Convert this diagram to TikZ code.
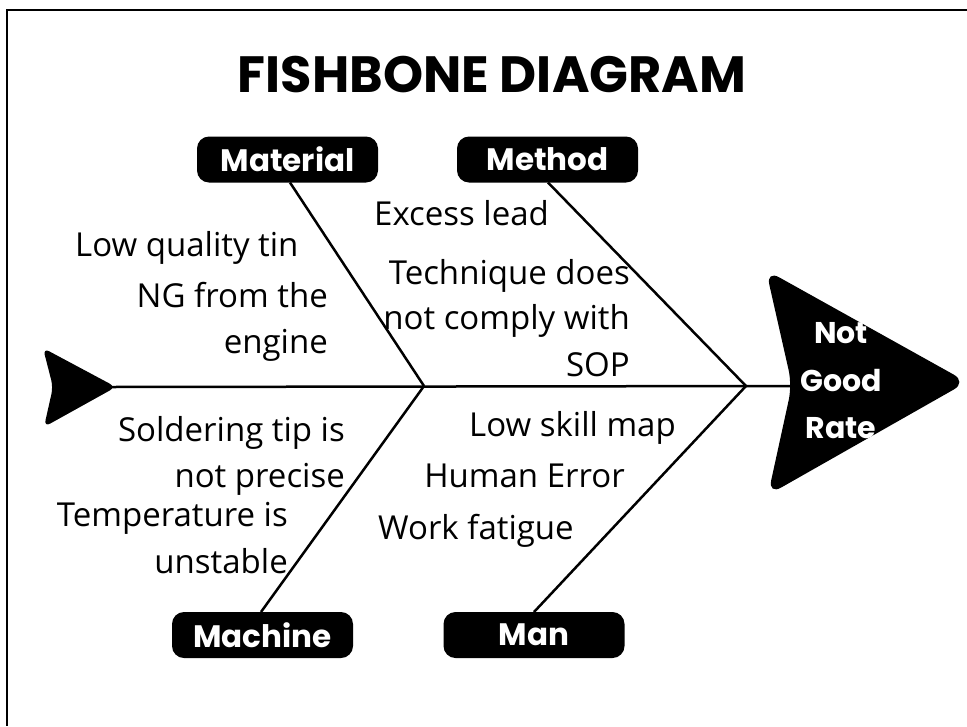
\documentclass[tikz,border=0pt]{standalone}
\usepackage{fontspec}
\setmainfont{Open Sans}
\newfontfamily\qfont{Poppins}
\begin{document}
\begin{tikzpicture}[x=1pt,y=-1pt,
  bone/.style={line width=2.5pt,black},
  catbox/.style={fill=black,rounded corners=12pt,minimum width=181pt,minimum height=46pt,inner sep=0pt,text=white,font=\qfont\bfseries\fontsize{31}{32}\selectfont},
  cause/.style={inner sep=0pt,font=\fontsize{33}{46}\selectfont},
  headtxt/.style={inner sep=0pt,text=white,font=\qfont\bfseries\fontsize{30}{32}\selectfont}
]
\useasboundingbox (0,0) rectangle (967,726);
\fill[white] (0,0) rectangle (967,726);
% frame (only top and left edges visible)
\draw[line width=2pt] (967,10) -- (7,10) -- (7,726);
% title
\node[inner sep=0pt,anchor=base,font=\qfont\bfseries\fontsize{51}{55}\selectfont] (title) at (492,92) {FISHBONE DIAGRAM};
% head
\fill[rounded corners=15pt] (766,270) -- (967,382) -- (768,495) -- (792,385) -- cycle;
\coordinate (head) at (792,386);
% tail
\fill[rounded corners=7pt] (43,348) -- (116,387) -- (44,427) -- (53,387) -- cycle;
\coordinate (tail) at (112,387);
% junctions
\coordinate (j1) at (424,386);
\coordinate (j2) at (746,386);
% category boxes
\node[catbox] (material) at (287.5,159.5) {Material};
\node[catbox] (method) at (547.5,159.5) {Method};
\node[catbox] (machine) at (262.5,635) {Machine};
\node[catbox] (man) at (534,635) {Man};
% bones
\draw[bone] (tail) -- (head);
\draw[bone] (290,182.5) coordinate (mat1) -- (j1);
\draw[bone] (548,182.5) coordinate (met1) -- (j2);
\draw[bone] (261,612) coordinate (mac1) -- (j1);
\draw[bone] (534,612) coordinate (man1) -- (j2);
% head text
\node[headtxt,anchor=base] (not) at (841,343) {Not};
\node[headtxt,anchor=base] (good) at (841,391) {Good};
\node[headtxt,anchor=base] (rate) at (841,438) {Rate};
% causes
\node[cause,anchor=base west] (c1) at (75,256) {Low quality tin};
\node[cause,anchor=base east] (c2a) at (328,307) {NG from the};
\node[cause,anchor=base east] (c2b) at (328,353) {engine};
\node[cause,anchor=base west] (c3) at (374,225) {Excess lead};
\node[cause,anchor=base east] (c4a) at (630,284) {Technique does};
\node[cause,anchor=base east] (c4b) at (630,329) {not comply with};
\node[cause,anchor=base east] (c4c) at (630,376) {SOP};
\node[cause,anchor=base east] (c5a) at (345,441) {Soldering tip is};
\node[cause,anchor=base east] (c5b) at (345,487) {not precise};
\node[cause,anchor=base east] (c6a) at (288,526) {Temperature is};
\node[cause,anchor=base east] (c6b) at (288,573) {unstable};
\node[cause,anchor=base east] (c7) at (676,436) {Low skill map};
\node[cause,anchor=base east] (c8) at (625,487) {Human Error};
\node[cause,anchor=base west] (c9) at (378,539) {Work fatigue};
\end{tikzpicture}
\end{document}
